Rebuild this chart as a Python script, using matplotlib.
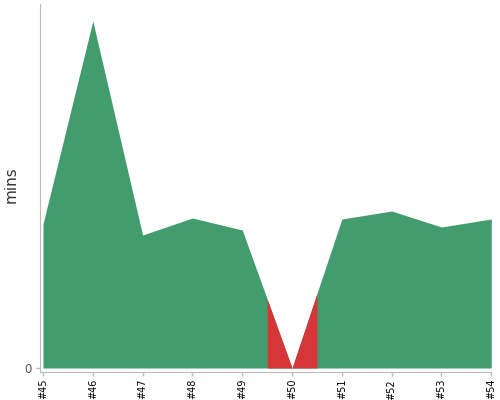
import matplotlib
matplotlib.use("Agg")
import matplotlib.pyplot as plt
import numpy as np

# build numbers, durations (mins) and result of each build
builds = [45, 46, 47, 48, 49, 50, 51, 52, 53, 54]
mins = [14.4, 34.7, 13.3, 15.0, 13.8, 0.0, 14.9, 15.7, 14.1, 14.9]
status = ["ok", "ok", "ok", "ok", "ok", "fail", "ok", "ok", "ok", "ok"]
labels = ["#" + str(b) for b in builds]

green = "#439c6e"
red = "#d63638"

fig = plt.figure(figsize=(5, 4), dpi=100)
ax = fig.add_axes([0.079, 0.07, 0.9036, 0.92])

# whole area in green first
ax.fill_between(builds, mins, 0, color=green, linewidth=0)

# failed builds painted red from half way to the previous build up to half way to the next
for i, b in enumerate(builds):
    if status[i] != "fail":
        continue
    xs = [max(b - 0.5, builds[0]), b, min(b + 0.5, builds[-1])]
    ys = np.interp(xs, builds, mins)
    ax.fill_between(xs, ys, 0, color=red, linewidth=0)

ax.set_xlim(44.93, 54)
ax.set_ylim(-0.4, 36.4)
ax.set_xticks(builds)
ax.set_xticklabels(labels, rotation=90, fontsize=7)
ax.set_yticks([0])
ax.set_yticklabels(["0"], fontsize=8.5, color="#555555")
ax.set_ylabel("mins", fontsize=11, color="#333333")
ax.yaxis.set_label_coords(-0.047, 0.51)

for side in ["top", "right"]:
    ax.spines[side].set_visible(False)
for side in ["left", "bottom"]:
    ax.spines[side].set_color("#bbbbbb")
ax.tick_params(axis="both", colors="#bbbbbb", length=3, width=1)
ax.tick_params(axis="x", labelcolor="black", pad=2)
ax.tick_params(axis="y", labelcolor="#555555", pad=3)

fig.savefig("out.png", dpi=100)
